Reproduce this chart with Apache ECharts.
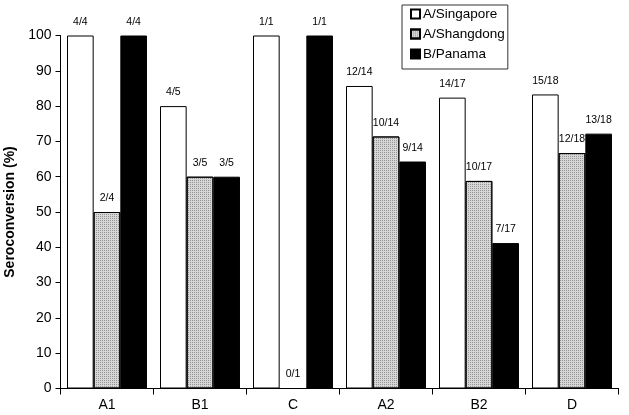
<!DOCTYPE html>
<html>
<head>
<meta charset="utf-8">
<style>
html,body{margin:0;padding:0;background:#fff;}
#chart{width:629px;height:415px;}
</style>
<script src="https://cdn.jsdelivr.net/npm/echarts@6/dist/echarts.min.js"></script>
</head>
<body>
<div id="chart"></div>
<script>
const categories = ['A1', 'B1', 'C', 'A2', 'B2', 'D'];
const seriesNames = ['A/Singapore', 'A/Shangdong', 'B/Panama'];
const singapore = [100, 80, 100, 85.7, 82.4, 83.3];
const shangdong = [50, 60, 0, 71.4, 58.8, 66.7];
const panama = [100, 60, 100, 64.3, 41.2, 72.2];
const singaporeLabels = ['4/4', '4/5', '1/1', '12/14', '14/17', '15/18'];
const shangdongLabels = ['2/4', '3/5', '0/1', '10/14', '10/17', '12/18'];
const panamaLabels = ['4/4', '3/5', '1/1', '9/14', '7/17', '13/18'];
const yTicks = [0, 10, 20, 30, 40, 50, 60, 70, 80, 90, 100];

const FONT = '"Liberation Sans", Arial, Helvetica, sans-serif';
const chart = echarts.init(document.getElementById('chart'), null, {renderer: 'canvas'});

function mkSeries(name, values, labels, color, decal) {
  const itemStyle = {color: color, borderColor: '#000', borderWidth: 1};
  if (decal) itemStyle.decal = decal;
  return {
    name: name,
    type: 'bar',
    data: values,
    barGap: '0%',
    barCategoryGap: '14%',
    itemStyle: itemStyle,
    label: {
      show: true,
      position: 'top',
      distance: 8,
      fontFamily: FONT,
      fontSize: 10.5,
      color: '#000',
      formatter: function (p) { return labels[p.dataIndex]; }
    },
    emphasis: {disabled: true}
  };
}

chart.setOption({
  animation: false,
  backgroundColor: '#fff',
  grid: {left: 60.5, right: 10.5, top: 35.5, bottom: 26.5, containLabel: false, outerBoundsMode: 'none'},
  legend: {
    orient: 'vertical',
    left: 402,
    top: 5,
    padding: [2, 3, 8, 8],
    itemGap: 6,
    itemWidth: 9,
    itemHeight: 9,
    icon: 'rect',
    backgroundColor: '#fff',
    borderColor: '#333',
    borderWidth: 1,
    textStyle: {fontFamily: FONT, fontSize: 13.5, color: '#000', padding: [0, 0, 0, -2]},
    data: seriesNames
  },
  xAxis: {
    type: 'category',
    data: categories,
    axisLine: {show: true, lineStyle: {color: '#000', width: 1}},
    axisTick: {show: true, length: 6, interval: 0, lineStyle: {color: '#000'}},
    axisLabel: {fontFamily: FONT, fontSize: 14, color: '#000', margin: 10},
    splitLine: {show: false}
  },
  yAxis: {
    type: 'value',
    min: yTicks[0],
    max: yTicks[yTicks.length - 1],
    interval: 10,
    name: 'Seroconversion (%)',
    nameLocation: 'middle',
    nameGap: 41,
    nameRotate: 90,
    nameTextStyle: {fontFamily: FONT, fontSize: 14, fontWeight: 'bold', color: '#000'},
    axisLine: {show: true, lineStyle: {color: '#000', width: 1}},
    axisTick: {show: true, length: 5, lineStyle: {color: '#000'}},
    axisLabel: {fontFamily: FONT, fontSize: 14, color: '#000', margin: 9},
    splitLine: {show: false}
  },
  series: [
    mkSeries(seriesNames[0], singapore, singaporeLabels, '#ffffff'),
    mkSeries(seriesNames[1], shangdong, shangdongLabels, '#d6d6d6',
      {symbol: 'rect', symbolSize: 1, dashArrayX: [1, 1], dashArrayY: [1, 1], color: '#949494', rotation: 0}),
    mkSeries(seriesNames[2], panama, panamaLabels, '#000000')
  ]
});
</script>
</body>
</html>
